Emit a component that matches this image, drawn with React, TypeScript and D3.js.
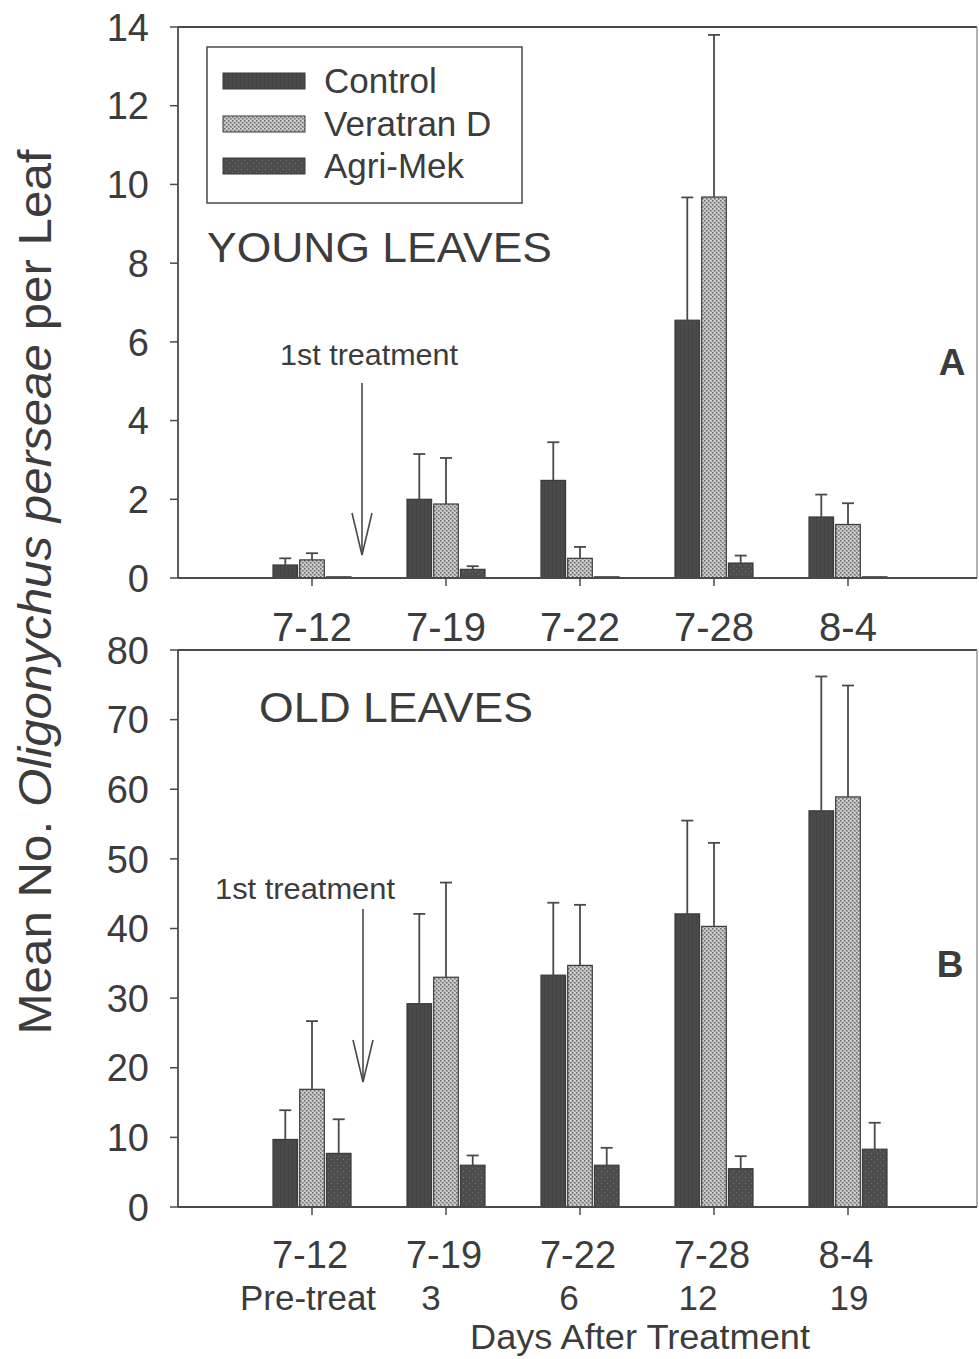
import React from 'react';
import * as d3 from 'd3';

const dates = ['7-12', '7-19', '7-22', '7-28', '8-4'];
const daysAfter = ['Pre-treat', '3', '6', '12', '19'];
const series = ['Control', 'Veratran D', 'Agri-Mek'];

// Panel A: young leaves (means and standard errors)
const youngControl = [0.33, 2.0, 2.48, 6.55, 1.55];
const youngControlSE = [0.17, 1.15, 0.97, 3.12, 0.57];
const youngVeratran = [0.46, 1.88, 0.5, 9.68, 1.36];
const youngVeratranSE = [0.17, 1.17, 0.29, 4.12, 0.54];
const youngAgriMek = [0.03, 0.22, 0.03, 0.38, 0.03];
const youngAgriMekSE = [0, 0.08, 0, 0.19, 0];

// Panel B: old leaves
const oldControl = [9.7, 29.2, 33.3, 42.1, 56.9];
const oldControlSE = [4.2, 12.9, 10.4, 13.4, 19.3];
const oldVeratran = [16.9, 33.0, 34.7, 40.3, 58.9];
const oldVeratranSE = [9.8, 13.6, 8.7, 12.0, 16.0];
const oldAgriMek = [7.7, 6.0, 6.0, 5.5, 8.3];
const oldAgriMekSE = [4.9, 1.4, 2.5, 1.8, 3.8];

const youngTicks = [0, 2, 4, 6, 8, 10, 12, 14];
const oldTicks = [0, 10, 20, 30, 40, 50, 60, 70, 80];

const FONT = '"Liberation Sans", Arial, Helvetica, sans-serif';
const INK = '#3c3c3c';
const LINE = '#4a4a4a';
const fills = ['url(#patControl)', 'url(#patVeratran)', 'url(#patAgri)'];

const LEFT = 178;
const RIGHT = 977;
// horizontal nudges of the second label row (layout only)
const dayLabelShift = [-4, -15, -11, -16, 1];

const x = d3.scaleBand<string>().domain(dates).range([245, 915]);
const offset = d3.scaleBand<string>().domain(series).range([-39, 39]).paddingInner(0.08);

type PanelProps = {
  y: d3.ScaleLinear<number, number>;
  ticks: number[];
  means: number[][];
  ses: number[][];
};

function Panel({ y, ticks, means, ses }: PanelProps) {
  const [y0, y1] = y.range();
  const bw = offset.bandwidth();
  return (
    <g>
      <line x1={LEFT} x2={RIGHT} y1={y1} y2={y1} stroke={LINE} strokeWidth={1.8} />
      <line x1={RIGHT} x2={RIGHT} y1={y1} y2={y0} stroke="#9a9a9a" strokeWidth={1.5} />
      {means.map((vals, s) =>
        vals.map((v, i) => {
          const cx = (x(dates[i]) as number) + x.bandwidth() / 2;
          const bx = cx + (offset(series[s]) as number);
          const top = y(v);
          return (
            <rect
              key={`b${s}-${i}`}
              x={bx}
              y={top}
              width={bw}
              height={y(0) - top}
              fill={fills[s]}
              stroke="#3a3a3a"
              strokeWidth={1.2}
            />
          );
        })
      )}
      {means.map((vals, s) =>
        vals.map((v, i) => {
          const se = ses[s][i];
          if (!se) return null;
          const cx = (x(dates[i]) as number) + x.bandwidth() / 2 + (offset(series[s]) as number) + bw / 2;
          const t = y(v + se);
          return (
            <g key={`e${s}-${i}`} stroke={LINE} strokeWidth={1.8}>
              <line x1={cx} x2={cx} y1={y(v)} y2={t} />
              <line x1={cx - 6} x2={cx + 6} y1={t} y2={t} />
            </g>
          );
        })
      )}
      <line x1={LEFT} x2={LEFT} y1={y1} y2={y0} stroke={LINE} strokeWidth={1.8} />
      {ticks.map((t) => (
        <g key={`t${t}`}>
          <line x1={LEFT - 8} x2={LEFT} y1={y(t)} y2={y(t)} stroke={LINE} strokeWidth={1.5} />
          <text x={149} y={y(t)} dy="0.36em" textAnchor="end" fontSize={38} fill={INK} fontFamily={FONT}>
            {t}
          </text>
        </g>
      ))}
      <line x1={LEFT} x2={RIGHT} y1={y0} y2={y0} stroke={LINE} strokeWidth={1.8} />
      {dates.map((d) => {
        const cx = (x(d) as number) + x.bandwidth() / 2;
        return <line key={`xt${d}`} x1={cx} x2={cx} y1={y0} y2={y0 + 8} stroke={LINE} strokeWidth={1.5} />;
      })}
    </g>
  );
}

function Arrow({ xPos, yTop, yTip }: { xPos: number; yTop: number; yTip: number }) {
  return (
    <g stroke={LINE} strokeWidth={1.6} fill="none">
      <line x1={xPos} x2={xPos} y1={yTop} y2={yTip} />
      <polyline points={`${xPos - 10},${yTip - 42} ${xPos},${yTip} ${xPos + 10},${yTip - 42}`} />
    </g>
  );
}

export default function App() {
  const yA = d3.scaleLinear().domain([0, 14]).range([578, 27]);
  const yB = d3.scaleLinear().domain([0, 80]).range([1207, 650]);
  const legendY = [73, 116, 158];

  return (
    <svg
      width={979}
      height={1359}
      viewBox="0 0 979 1359"
      style={{ position: 'absolute', left: 0, top: 0, display: 'block', background: '#fff' }}
    >
      <defs>
        <pattern id="patControl" width={4} height={4} patternUnits="userSpaceOnUse">
          <rect width={4} height={4} fill="#4a4a4a" />
          <rect x={0} y={0} width={1} height={4} fill="#444" />
        </pattern>
        <pattern id="patVeratran" width={4} height={4} patternUnits="userSpaceOnUse">
          <rect width={4} height={4} fill="#c4c4c4" />
          <rect x={0} y={0} width={1.5} height={1.5} fill="#6a6a6a" />
          <rect x={2} y={2} width={1.5} height={1.5} fill="#6a6a6a" />
          <rect x={2} y={0} width={1} height={1} fill="#ececec" />
        </pattern>
        <pattern id="patAgri" width={6} height={6} patternUnits="userSpaceOnUse">
          <rect width={6} height={6} fill="#4d4d4d" />
          <rect x={1} y={1} width={1} height={1} fill="#7c7c7c" />
          <rect x={4} y={4} width={1} height={1} fill="#6e6e6e" />
        </pattern>
      </defs>
      <rect width={979} height={1359} fill="#fff" />

      <Panel
        y={yA}
        ticks={youngTicks}
        means={[youngControl, youngVeratran, youngAgriMek]}
        ses={[youngControlSE, youngVeratranSE, youngAgriMekSE]}
      />
      <Panel
        y={yB}
        ticks={oldTicks}
        means={[oldControl, oldVeratran, oldAgriMek]}
        ses={[oldControlSE, oldVeratranSE, oldAgriMekSE]}
      />

      {dates.map((d) => (
        <text
          key={`la${d}`}
          x={(x(d) as number) + x.bandwidth() / 2}
          y={641}
          textAnchor="middle"
          fontSize={40}
          fill={INK}
          fontFamily={FONT}
        >
          {d}
        </text>
      ))}
      {dates.map((d, i) => (
        <g key={`lb${d}`}>
          <text
            x={(x(d) as number) + x.bandwidth() / 2 - 2}
            y={1268}
            textAnchor="middle"
            fontSize={38}
            fill={INK}
            fontFamily={FONT}
          >
            {d}
          </text>
          <text
            x={(x(d) as number) + x.bandwidth() / 2 + dayLabelShift[i]}
            y={1310}
            textAnchor="middle"
            fontSize={35}
            fill={INK}
            fontFamily={FONT}
          >
            {daysAfter[i]}
          </text>
        </g>
      ))}
      <text
        x={640}
        y={1349}
        textAnchor="middle"
        fontSize={35}
        fill={INK}
        fontFamily={FONT}
        textLength={340}
        lengthAdjust="spacingAndGlyphs"
      >
        Days After Treatment
      </text>

      <text
        transform="translate(51,592) rotate(-90)"
        textAnchor="middle"
        fontSize={46}
        fill={INK}
        fontFamily={FONT}
        textLength={885}
        lengthAdjust="spacingAndGlyphs"
      >
        Mean No. <tspan fontStyle="italic">Oligonychus perseae</tspan> per Leaf
      </text>

      <rect x={207} y={47} width={315} height={156} fill="#fff" stroke={LINE} strokeWidth={1.5} />
      {series.map((s, i) => (
        <g key={`lg${s}`}>
          <rect x={223} y={legendY[i]} width={82} height={16} fill={fills[i]} stroke="#3a3a3a" strokeWidth={1} />
          <text x={324} y={legendY[i] + 20} fontSize={35} fill={INK} fontFamily={FONT}>
            {s}
          </text>
        </g>
      ))}

      <text x={207} y={262} fontSize={43} fill={INK} fontFamily={FONT} textLength={345} lengthAdjust="spacingAndGlyphs">
        YOUNG LEAVES
      </text>
      <text x={259} y={722} fontSize={43} fill={INK} fontFamily={FONT} textLength={274} lengthAdjust="spacingAndGlyphs">
        OLD LEAVES
      </text>
      <text x={952} y={375} textAnchor="middle" fontSize={37} fontWeight="bold" fill={INK} fontFamily={FONT}>
        A
      </text>
      <text x={950} y={977} textAnchor="middle" fontSize={37} fontWeight="bold" fill={INK} fontFamily={FONT}>
        B
      </text>

      <text x={280} y={365} fontSize={30} fill={INK} fontFamily={FONT} textLength={178} lengthAdjust="spacingAndGlyphs">
        1st treatment
      </text>
      <Arrow xPos={362} yTop={383} yTip={555} />
      <text x={215} y={899} fontSize={30} fill={INK} fontFamily={FONT} textLength={180} lengthAdjust="spacingAndGlyphs">
        1st treatment
      </text>
      <Arrow xPos={363} yTop={909} yTip={1082} />
    </svg>
  );
}
